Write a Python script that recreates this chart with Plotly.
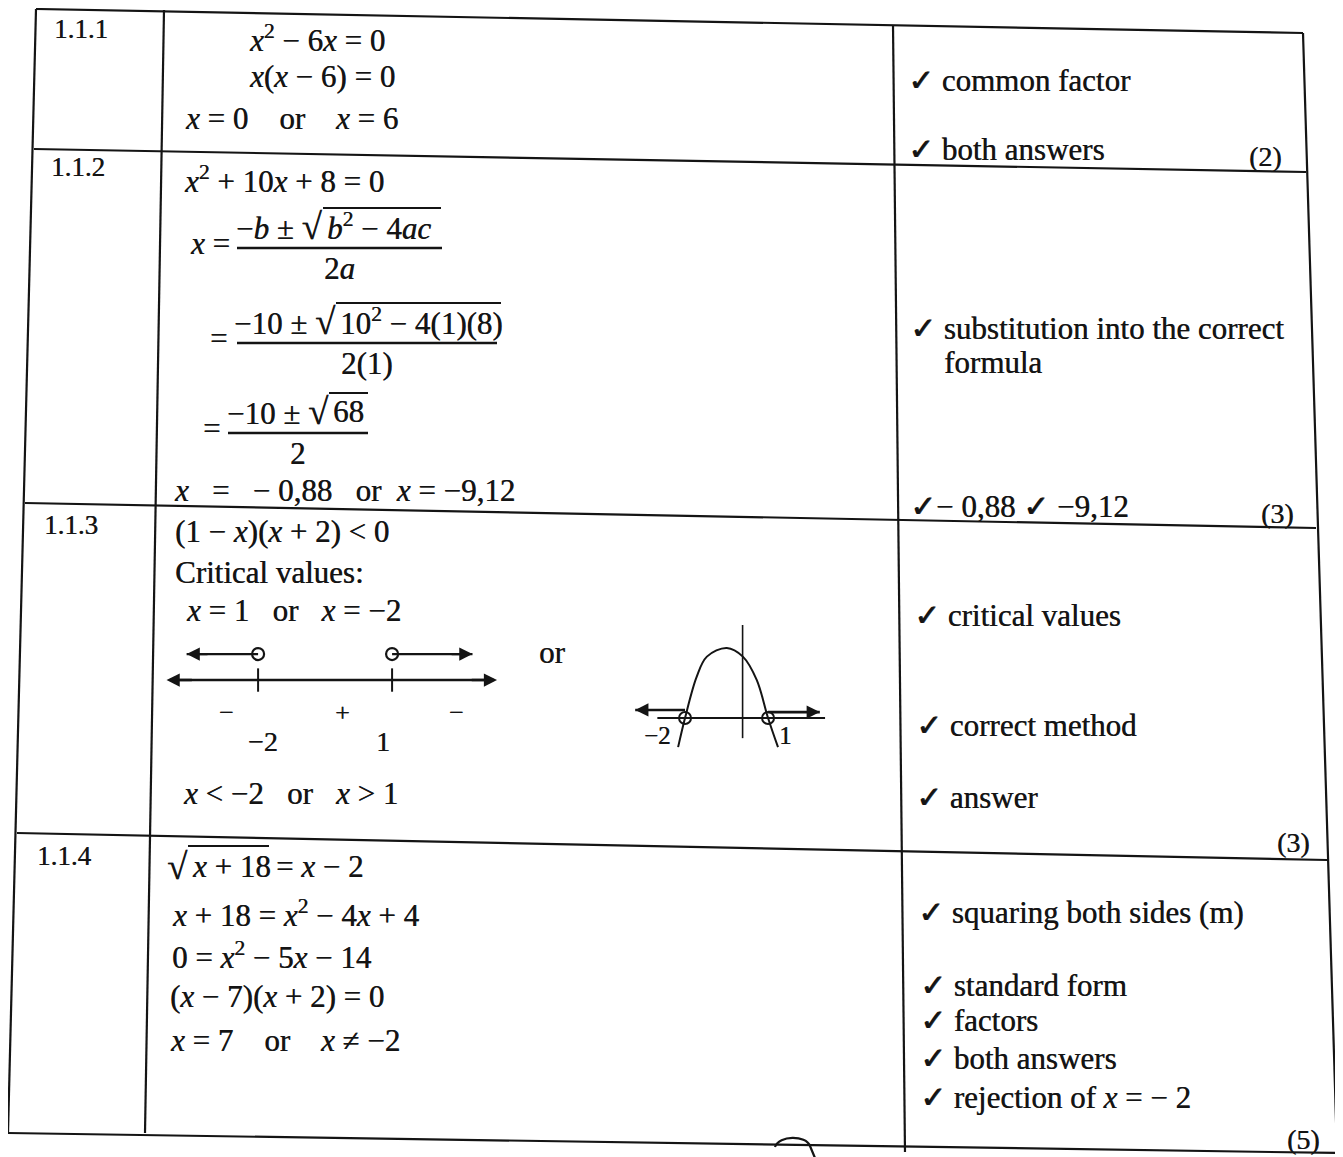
import plotly.graph_objects as go

NB = "\u00a0"
X = "<i>x</i>"
ROOT = '<span style="font-size:37px">√</span>'

# question numbers and mark totals
question_ids = ["1.1.1", "1.1.2", "1.1.3", "1.1.4"]
mark_totals = ["(2)", "(3)", "(3)", "(5)"]

# worked solutions
steps_111 = [f"{X}<sup>2</sup> − 6{X} = 0", f"{X}({X} − 6) = 0",
             f"{X} = 0{NB*4}or{NB*4}{X} = 6"]
steps_112 = [f"{X}<sup>2</sup> + 10{X} + 8 = 0",
             f"{X}{NB*3}={NB*3}− 0,88{NB*3}or{NB*2}{X} = −9,12"]
fractions_112 = [  # (left side, numerator before root, radicand, denominator)
    (f"{X} =", f"−<i>b</i> ± {ROOT}", "<i>b</i><sup>2</sup> − 4<i>ac</i>", "2<i>a</i>"),
    ("=", f"−10 ± {ROOT}", "10<sup>2</sup> − 4(1)(8)", "2(1)"),
    ("=", f"−10 ± {ROOT}", "68", "2"),
]
steps_113 = [f"(1 − {X})({X} + 2) &lt; 0", "Critical values:", f"{X} = 1{NB*3}or{NB*3}{X} = −2",
             f"{X} &lt; −2{NB*3}or{NB*3}{X} &gt; 1"]
root_114 = f"{X} + 18"
steps_114 = [f"= {X} − 2", f"{X} + 18 = {X}<sup>2</sup> − 4{X} + 4",
             f"0 = {X}<sup>2</sup> − 5{X} − 14", f"({X} − 7)({X} + 2) = 0",
             f"{X} = 7{NB*4}or{NB*4}{X} ≠ −2"]

# marking criteria
crit_111 = ["✓ common factor", "✓ both answers"]
crit_112 = ["✓ substitution into the correct", "formula", "✓− 0,88 ✓ −9,12"]
crit_113 = ["✓ critical values", "✓ correct method", "✓ answer"]
crit_114 = ["✓ squaring both sides (m)", "✓ standard form", "✓ factors", "✓ both answers",
            f"✓ rejection of {X} = − 2"]

# number line and parabola sketch for 1.1.3
critical_values = [-2, 1]
critical_labels = ["−2", "1"]
interval_signs = ["−", "+", "−"]
sign_positions = [-2.7, -0.1, 2.45]
parabola_x = [-2.25, -2.0, -1.58, -1.21, -0.49, 0.09, 0.59, 1.0, 1.36]
parabola_y = [-0.94, 0.0, 1.33, 1.98, 2.26, 1.98, 1.23, 0.0, -0.94]

FONT = "Liberation Serif, DejaVu Serif, serif"
INK = "#141414"
W, H = 1343, 1157
OFF = 8  # page body margin around the plot div

fig = go.Figure()


def txt(x, y, s, size=31, anchor="left", ref=("x", "y"), **kw):
    fig.add_annotation(x=x, y=y, xref=ref[0], yref=ref[1], text=s, showarrow=False,
                       xanchor=anchor, yanchor="middle",
                       font=dict(family=FONT, size=size, color=INK,
                                 shadow="0.5px 0px 0px rgba(20,20,20,0.85)"), **kw)


def seg(x0, y0, x1, y1, width=2.2):
    fig.add_shape(type="line", x0=x0, y0=y0, x1=x1, y1=y1, xref="x", yref="y",
                  line=dict(color=INK, width=width))


def arrow_head(xa, ya, tip, y, back):
    fig.add_annotation(x=tip, y=y, ax=tip - back, ay=y, xref=xa, yref=ya, axref=xa, ayref=ya,
                       text="", showarrow=True, arrowhead=2, arrowsize=1.1, arrowwidth=2.4,
                       arrowcolor=INK, standoff=0)


# table frame (photo is slightly skewed)
seg(36, 9, 1303, 33)
seg(34, 149, 1306, 172)
seg(25, 503, 1316, 528)
seg(17, 833, 1327, 860)
seg(8, 1133, 1337, 1153)
seg(36, 9, 8, 1133)
seg(164, 10, 145, 1133)
seg(893, 25, 905, 1152)
seg(1303, 33, 1337, 1153)
fig.add_shape(type="path", path="M 775 1147 C 779 1135, 806 1135, 810 1146 L 815 1158",
              xref="x", yref="y", line=dict(color=INK, width=2.2))

# question numbers
for qid, (x, y) in zip(question_ids, [(52, 29), (49, 167), (42, 525), (35, 856)]):
    txt(x, y, qid, size=27)

# mark totals
for mark, (x, y) in zip(mark_totals, [(1284, 156), (1296, 513), (1312, 842), (1322, 1139)]):
    txt(x, y, mark, size=28, anchor="right")

# 1.1.1
for s, (x, y) in zip(steps_111, [(247, 38), (247, 76), (183, 118)]):
    txt(x, y, s)

# 1.1.2
txt(182, 179, steps_112[0])
txt(172, 490, steps_112[1])
frac_layout = [  # lhs x, bar x0, bar x1, bar y, root split x, overline end x
    (232, 237, 442, 248, 325, 441),
    (229, 237, 497, 343, 338, 501),
    (222, 228, 368, 433, 331, 368),
]
for (lhs, pre, rad, den), (lx, b0, b1, by, sx, oe) in zip(fractions_112, frac_layout):
    txt(lx, by - 5, lhs, anchor="right")
    txt(sx, by - 22, pre, anchor="right")
    txt(sx, by - 22, rad, anchor="left")
    txt((b0 + b1) / 2, by + 20, den, anchor="center")
    seg(b0, by, b1, by, width=2.4)
    seg(sx - 2, by - 40, oe, by - 40, width=1.8)

# 1.1.3
for s, (x, y) in zip(steps_113, [(173, 531), (173, 572), (184, 610), (181, 793)]):
    txt(x, y, s)
txt(537, 652, "or")

# 1.1.4
txt(190, 866, ROOT, anchor="right")
txt(190, 866, root_114)
for s, (x, y) in zip(steps_114, [(274, 866), (170, 913), (170, 955), (168, 996), (168, 1040)]):
    txt(x, y, s)
seg(188, 846, 269, 846, width=1.8)

# marking criteria column
crit_layout = [
    (crit_111, [(906, 80), (906, 149)]),
    (crit_112, [(908, 328), (942, 362), (908, 506)]),
    (crit_113, [(912, 615), (914, 725), (914, 797)]),
    (crit_114, [(916, 912), (918, 985), (918, 1020), (918, 1058), (918, 1097)]),
]
for items, pos in crit_layout:
    for s, (x, y) in zip(items, pos):
        txt(x, y, s)

# number line (axes x2/y2)
nl = ("x2", "y2")
fig.add_trace(go.Scatter(x=[-3.95, 3.25], y=[0, 0], mode="lines", xaxis="x2", yaxis="y2",
                         line=dict(color=INK, width=2.4), hoverinfo="skip", showlegend=False))
arrow_head("x2", "y2", -4.05, 0, -0.6)
arrow_head("x2", "y2", 3.35, 0, 0.6)
for cv, tip in zip(critical_values, (-3.6, 2.8)):
    fig.add_trace(go.Scatter(x=[cv, tip], y=[1, 1], mode="lines", xaxis="x2", yaxis="y2",
                             line=dict(color=INK, width=2.4), hoverinfo="skip", showlegend=False))
    arrow_head("x2", "y2", tip, 1, 0.5 if tip > cv else -0.5)
for cv in critical_values:
    fig.add_trace(go.Scatter(x=[cv, cv], y=[-0.45, 0.45], mode="lines", xaxis="x2", yaxis="y2",
                             line=dict(color=INK, width=2), hoverinfo="skip", showlegend=False))
fig.add_trace(go.Scatter(x=critical_values, y=[1, 1], mode="markers", xaxis="x2", yaxis="y2",
                         marker=dict(symbol="circle-open", size=12, color=INK, line=dict(width=2.2)),
                         hoverinfo="skip", showlegend=False))
for s, px in zip(interval_signs, sign_positions):
    txt(px, -1.25, s, size=26, anchor="center", ref=nl)
for cv, lab, dx in zip(critical_values, critical_labels, (5, -9)):
    txt(cv, -2.35, lab, size=28, anchor="center", ref=nl, xshift=dx)

# parabola sketch (axes x3/y3)
pb = ("x3", "y3")
fig.add_trace(go.Scatter(x=parabola_x, y=parabola_y, mode="lines", xaxis="x3", yaxis="y3",
                         line=dict(color=INK, width=2, shape="spline"),
                         hoverinfo="skip", showlegend=False))
fig.add_trace(go.Scatter(x=[0.08, 0.08], y=[-0.65, 3.0], mode="lines", xaxis="x3", yaxis="y3",
                         line=dict(color=INK, width=1.6), hoverinfo="skip", showlegend=False))
fig.add_trace(go.Scatter(x=[-3.0, 3.06], y=[0, 0], mode="lines", xaxis="x3", yaxis="y3",
                         line=dict(color=INK, width=1.8), hoverinfo="skip", showlegend=False))
for cv, tip, ry in zip(critical_values, (-3.8, 2.87), (0.26, 0.19)):
    fig.add_trace(go.Scatter(x=[cv, tip], y=[ry, ry], mode="lines", xaxis="x3", yaxis="y3",
                             line=dict(color=INK, width=2.6), hoverinfo="skip", showlegend=False))
    arrow_head("x3", "y3", tip, ry, 0.5 if tip > cv else -0.5)
fig.add_trace(go.Scatter(x=critical_values, y=[0, 0], mode="markers", xaxis="x3", yaxis="y3",
                         marker=dict(symbol="circle-open", size=12, color=INK, line=dict(width=2)),
                         hoverinfo="skip", showlegend=False))
for cv, lab, dx in zip(critical_values, critical_labels, (-28, 17)):
    txt(cv, 0, lab, size=25, anchor="center", ref=pb, xshift=dx, yshift=-17)

hidden = dict(visible=False, showgrid=False, zeroline=False, fixedrange=True)
fig.update_layout(
    width=W, height=H,
    margin=dict(l=0, r=0, t=0, b=0),
    paper_bgcolor="white", plot_bgcolor="rgba(0,0,0,0)",
    showlegend=False,
    xaxis=dict(range=[OFF, W + OFF], domain=[0, 1], **hidden),
    yaxis=dict(range=[H + OFF, OFF], domain=[0, 1], **hidden),
    xaxis2=dict(range=[-4.42, 3.64], domain=[(150 - OFF) / W, (510 - OFF) / W], anchor="y2", **hidden),
    yaxis2=dict(range=[-3.08, 2.12], domain=[1 - (760 - OFF) / H, 1 - (625 - OFF) / H], anchor="x2",
                **hidden),
    xaxis3=dict(range=[-4.35, 3.60], domain=[(620 - OFF) / W, (840 - OFF) / W], anchor="y3", **hidden),
    yaxis3=dict(range=[-1.355, 3.323], domain=[1 - (760 - OFF) / H, 1 - (615 - OFF) / H], anchor="x3",
                **hidden),
)

fig.write_html("out.html")
